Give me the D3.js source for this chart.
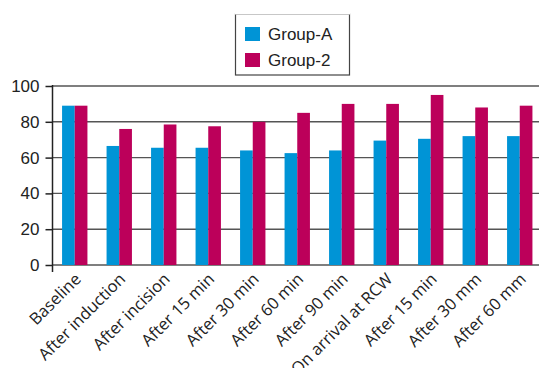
<!DOCTYPE html>
<html><head><meta charset="utf-8">
<script src="https://cdn.jsdelivr.net/npm/d3@7/dist/d3.min.js"></script>
<style>body{margin:0;background:#fff}svg{display:block}</style>
</head><body>
<svg id="c" width="539" height="368"></svg>
<script>
const categories = ["Baseline","After induction","After incision","After 15 min","After 30 min","After 60 min","After 90 min","On arrival at RCW","After 15 min ","After 30 mm","After 60 mm"];
const groupA = [89, 66.5, 65.5, 65.5, 64, 62.5, 64, 69.5, 70.5, 72, 72];
const group2 = [89, 76, 78.5, 77.5, 80, 85, 90, 90, 95, 88, 89];
const seriesNames = ["Group-A","Group-2"];
const colors = ["#0094d6","#bc005a"];
const yTicks = [0,20,40,60,80,100];

(function(){
const svg = d3.select("#c");
const pL = 52.5, pR = 542, pT = 86, pB = 265;
const x = d3.scaleBand().domain(categories).range([pL, pR]).paddingInner(0.43).paddingOuter(0.215);
const xs = d3.scaleBand().domain(seriesNames).range([0, x.bandwidth()]);
const y = d3.scaleLinear().domain([0,100]).range([pB, pT]);

// gridlines
svg.append("g").selectAll("line").data(yTicks).join("line")
  .attr("x1", pL).attr("x2", 539).attr("y1", d=>y(d)).attr("y2", d=>y(d))
  .attr("stroke", "#555").attr("stroke-width", 1.4);

// bars
const data = categories.map((c,i)=>({c, vals:[groupA[i], group2[i]]}));
const g = svg.append("g").selectAll("g").data(data).join("g")
  .attr("transform", d=>`translate(${x(d.c)},0)`);
g.selectAll("rect").data(d=>d.vals.map((v,j)=>({v,j}))).join("rect")
  .attr("x", d=>xs(seriesNames[d.j])).attr("width", xs.bandwidth())
  .attr("y", d=>y(d.v)).attr("height", d=>y(0)-y(d.v))
  .attr("fill", d=>colors[d.j]);

// y axis
const ya = d3.axisLeft(y).tickValues(yTicks).tickSize(7).tickPadding(6);
const yg = svg.append("g").attr("transform", `translate(${pL},0)`).call(ya);
yg.select(".domain").attr("d", `M0,${pT-1}V${pB+7}`).attr("stroke","#222").attr("stroke-width",1.5);
yg.selectAll(".tick line").attr("stroke","#222").attr("stroke-width",1.5);
yg.selectAll("text").attr("font-family","Liberation Sans, Arial, sans-serif").attr("font-size",17).attr("fill","#222");

// x labels
const xa = d3.axisBottom(x).tickSize(0).tickFormat(d=>d.trim());
const xg = svg.append("g").attr("transform", `translate(0,${pB})`).call(xa);
xg.select(".domain").remove();
xg.selectAll("text").attr("font-family","Open Sans, sans-serif").attr("font-size",16.5).attr("fill","#222")
  .attr("text-anchor","end").attr("dy",0).attr("y",0)
  .attr("transform","translate(-3,5) rotate(-45)").attr("dominant-baseline","hanging");

// legend
const lg = svg.append("g");
lg.append("rect").attr("x",235.5).attr("y",14).attr("width",114).attr("height",61)
  .attr("fill","#fff").attr("stroke","#444").attr("stroke-width",1.2);
lg.append("rect").attr("x",235).attr("y",13).attr("width",115).attr("height",1.5).attr("fill","#fff");
seriesNames.forEach((s,i)=>{
  lg.append("rect").attr("x",245).attr("y",27+i*26).attr("width",15).attr("height",14).attr("fill",colors[i]);
  lg.append("text").attr("x",268).attr("y",40+i*26).text(s)
    .attr("font-family","Liberation Sans, Arial, sans-serif").attr("font-size",17).attr("fill","#222");
});
})();
</script>
</body></html>
